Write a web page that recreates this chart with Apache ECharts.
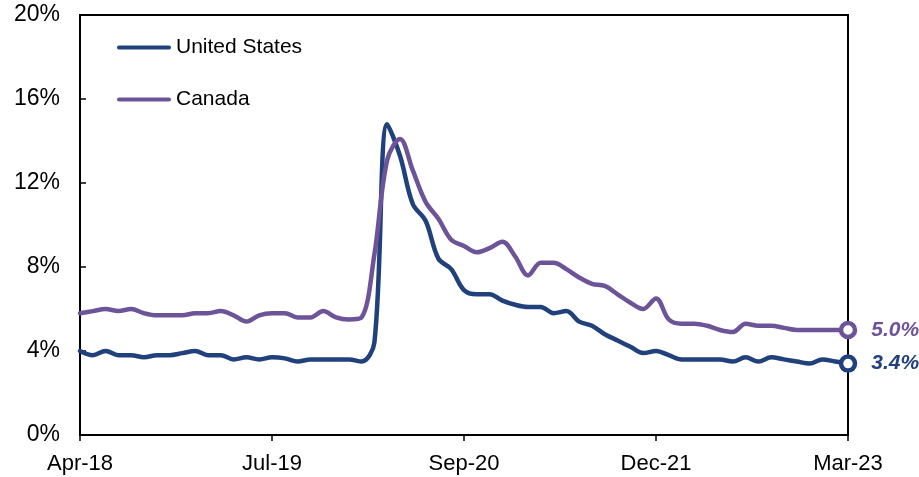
<!DOCTYPE html>
<html>
<head>
<meta charset="utf-8">
<title>Unemployment rate</title>
<script src="https://cdn.jsdelivr.net/npm/echarts@6/dist/echarts.min.js"></script>
<style>
  html, body { margin: 0; padding: 0; background: #fff; }
  #chart { width: 919px; height: 477px; }
</style>
</head>
<body>
<div id="chart"></div>
<script>
// monthly, Apr-18 .. Apr-23
var months = [
  'Apr-18', 'May-18', 'Jun-18', 'Jul-18', 'Aug-18', 'Sep-18', 'Oct-18', 'Nov-18', 'Dec-18',
  'Jan-19', 'Feb-19', 'Mar-19', 'Apr-19', 'May-19', 'Jun-19', 'Jul-19', 'Aug-19', 'Sep-19', 'Oct-19', 'Nov-19', 'Dec-19',
  'Jan-20', 'Feb-20', 'Mar-20', 'Apr-20', 'May-20', 'Jun-20', 'Jul-20', 'Aug-20', 'Sep-20', 'Oct-20', 'Nov-20', 'Dec-20',
  'Jan-21', 'Feb-21', 'Mar-21', 'Apr-21', 'May-21', 'Jun-21', 'Jul-21', 'Aug-21', 'Sep-21', 'Oct-21', 'Nov-21', 'Dec-21',
  'Jan-22', 'Feb-22', 'Mar-22', 'Apr-22', 'May-22', 'Jun-22', 'Jul-22', 'Aug-22', 'Sep-22', 'Oct-22', 'Nov-22', 'Dec-22',
  'Jan-23', 'Feb-23', 'Mar-23', 'Apr-23'
]
var unitedStates = [
  4.0, 3.8, 4.0, 3.8, 3.8, 3.7, 3.8, 3.8, 3.9,
  4.0, 3.8, 3.8, 3.6, 3.7, 3.6, 3.7, 3.65, 3.5, 3.6, 3.6, 3.6,
  3.6, 3.5, 4.4, 14.8, 13.3, 11.0, 10.2, 8.4, 7.9, 6.9, 6.7, 6.7,
  6.4, 6.2, 6.1, 6.1, 5.8, 5.9, 5.4, 5.2, 4.8, 4.5, 4.2, 3.9,
  4.0, 3.8, 3.6, 3.6, 3.6, 3.6, 3.5, 3.7, 3.5, 3.7, 3.6, 3.5,
  3.4, 3.6, 3.5, 3.4
]
var canada = [
  5.8, 5.9, 6.0, 5.9, 6.0, 5.8, 5.7, 5.7, 5.7,
  5.8, 5.8, 5.9, 5.7, 5.4, 5.7, 5.8, 5.8, 5.6, 5.6, 5.9, 5.6,
  5.5, 5.6, 8.6, 13.1, 14.1, 12.6, 11.1, 10.3, 9.3, 9.0, 8.7, 8.9,
  9.2, 8.5, 7.6, 8.2, 8.2, 7.9, 7.5, 7.2, 7.1, 6.7, 6.3, 6.0,
  6.5, 5.5, 5.3, 5.3, 5.2, 5.0, 4.9, 5.3, 5.2, 5.2, 5.1, 5.0,
  5.0, 5.0, 5.0, 5.0
]
var xTickLabels = ['Apr-18', 'Jul-19', 'Sep-20', 'Dec-21', 'Mar-23']

var FONT = '"Liberation Sans", Arial, sans-serif'
var US_COLOR = '#21417d'
var CA_COLOR = '#6d5499'
// capsule shaped legend key
var LEGEND_ICON = 'path://M2,0 L52,0 A2,2 0 0 1 52,4 L2,4 A2,2 0 0 1 2,0 Z'

// last point gets a hollow marker and a value label
function withEndMarker(values, color) {
  return values.map(function(v, i) {
    if (i !== values.length - 1) return v
    return {
      value: v,
      symbol: 'circle',
      symbolSize: 14,
      itemStyle: { color: '#fff', borderColor: color, borderWidth: 4.5 },
      label: {
        show: true,
        position: 'right',
        distance: 14,
        formatter: function(p) { return p.value.toFixed(1) + '%' },
        color: color,
        fontFamily: FONT,
        fontSize: 21,
        fontWeight: 'bold',
        fontStyle: 'italic'
      }
    }
  })
}

var chart = echarts.init(document.getElementById('chart'))
chart.setOption({
  animation: false,
  backgroundColor: '#fff',
  grid: {
    left: 80,
    right: 71,
    top: 15,
    bottom: 42,
    show: true,
    borderColor: '#000',
    borderWidth: 2
  },
  legend: {
    data: [
      { name: 'United States', icon: LEGEND_ICON, itemStyle: { color: US_COLOR } },
      { name: 'Canada', icon: LEGEND_ICON, itemStyle: { color: CA_COLOR } }
    ],
    orient: 'vertical',
    left: 117,
    top: 37,
    padding: 0,
    itemWidth: 54,
    itemHeight: 4.5,
    itemGap: 31,
    textStyle: { color: '#000', fontFamily: FONT, fontSize: 21, lineHeight: 21 }
  },
  xAxis: {
    type: 'category',
    data: months,
    boundaryGap: false,
    axisLine: { show: true, lineStyle: { color: '#000', width: 2 } },
    axisTick: { show: true, interval: 14, length: 6, lineStyle: { color: '#000', width: 1.5 } },
    axisLabel: {
      interval: 14,
      margin: 18,
      color: '#000',
      fontFamily: FONT,
      fontSize: 22,
      formatter: function(value, index) { return xTickLabels[index / 15] }
    },
    splitLine: { show: false }
  },
  yAxis: {
    type: 'value',
    min: 0,
    max: 20,
    interval: 4,
    axisLine: { show: true, lineStyle: { color: '#000', width: 2 } },
    axisTick: { show: true, inside: true, length: 6, lineStyle: { color: '#000', width: 1.5 } },
    axisLabel: {
      margin: 20,
      color: '#000',
      fontFamily: FONT,
      fontSize: 23,
      formatter: '{value}%'
    },
    splitLine: { show: false }
  },
  series: [
    {
      name: 'United States',
      type: 'line',
      data: withEndMarker(unitedStates, US_COLOR),
      smooth: 0.35,
      symbol: 'none',
      showAllSymbol: true,
      color: US_COLOR,
      lineStyle: { color: US_COLOR, width: 4.5, cap: 'round', join: 'round' }
    },
    {
      name: 'Canada',
      type: 'line',
      data: withEndMarker(canada, CA_COLOR),
      smooth: 0.35,
      symbol: 'none',
      showAllSymbol: true,
      color: CA_COLOR,
      lineStyle: { color: CA_COLOR, width: 4.5, cap: 'round', join: 'round' }
    }
  ]
})
</script>
</body>
</html>
